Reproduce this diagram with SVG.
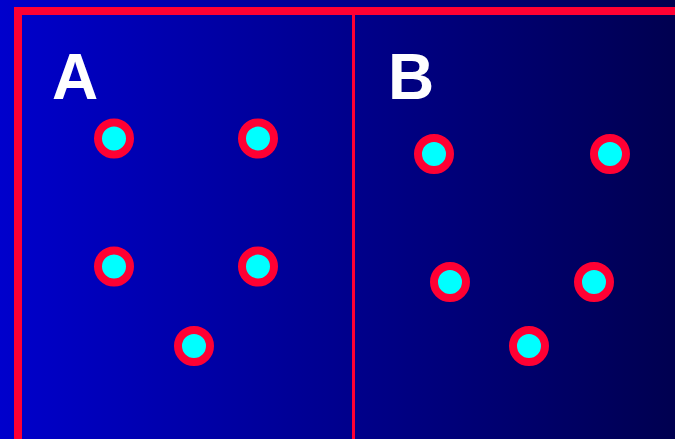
<svg xmlns="http://www.w3.org/2000/svg" width="675" height="439" viewBox="0 0 675 439">
<defs>
<linearGradient id="bg" x1="0" y1="0" x2="1" y2="0">
<stop offset="0" stop-color="#0000CC"/>
<stop offset="1" stop-color="#000050"/>
</linearGradient>
</defs>
<style>
.line{stroke:#FF0033;fill:none}
.dot{fill:#00FFFF;stroke:#FF0033;stroke-width:8}
.lbl{fill:#FFFFFF;font-family:"Liberation Sans",Arial,sans-serif;font-weight:bold;font-size:64px}
</style>
<rect x="0" y="0" width="675" height="439" fill="url(#bg)"/>
<g id="frame">
<line class="line" x1="14" y1="11" x2="675" y2="11" stroke-width="8"/>
<line class="line" x1="18" y1="7" x2="18" y2="439" stroke-width="8"/>
<line class="line" x1="353.5" y1="15" x2="353.5" y2="439" stroke-width="3"/>
</g>
<g id="labels">
<text class="lbl" x="52" y="99">A</text>
<text class="lbl" x="388" y="99">B</text>
</g>
<g id="groupA">
<circle class="dot" cx="114" cy="138.5" r="16"/>
<circle class="dot" cx="258" cy="138.5" r="16"/>
<circle class="dot" cx="114" cy="266.5" r="16"/>
<circle class="dot" cx="258" cy="266.5" r="16"/>
<circle class="dot" cx="194" cy="346" r="16"/>
</g>
<g id="groupB">
<circle class="dot" cx="434" cy="154" r="16"/>
<circle class="dot" cx="610" cy="154" r="16"/>
<circle class="dot" cx="450" cy="282" r="16"/>
<circle class="dot" cx="594" cy="282" r="16"/>
<circle class="dot" cx="529" cy="346" r="16"/>
</g>
</svg>
